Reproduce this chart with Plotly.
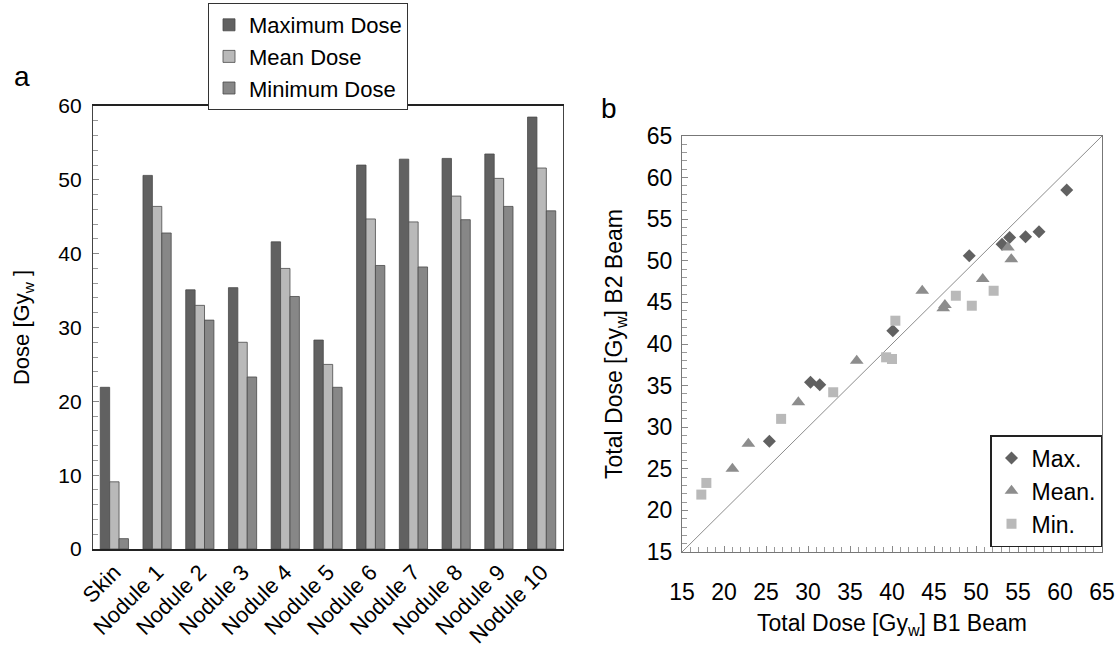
import plotly.graph_objects as go

# ---------------- data ----------------
categories = ["Skin", "Nodule 1", "Nodule 2", "Nodule 3", "Nodule 4", "Nodule 5",
              "Nodule 6", "Nodule 7", "Nodule 8", "Nodule 9", "Nodule 10"]
max_dose = [21.9, 50.6, 35.1, 35.4, 41.6, 28.3, 52.0, 52.8, 52.9, 53.5, 58.5]
mean_dose = [9.1, 46.4, 33.0, 28.0, 38.0, 25.0, 44.7, 44.3, 47.8, 50.2, 51.6]
min_dose = [1.4, 42.8, 31.0, 23.3, 34.2, 21.9, 38.4, 38.2, 44.6, 46.4, 45.8]

# B1 beam values for nodules 1..10 (x of panel b); B2 values are the bar values
b1_max = [49.2, 31.4, 30.3, 40.1, 25.4, 53.1, 54.0, 55.9, 57.5, 60.8]
b1_mean = [43.6, 28.85, 22.9, 35.8, 21.0, 46.3, 46.1, 50.8, 54.2, 53.8]
b1_min = [40.4, 26.8, 17.9, 33.0, 17.3, 39.3, 40.0, 49.5, 52.1, 47.6]
diag = [15, 65]

FONT = "Liberation Sans, Arial, sans-serif"
C_MAX = "#616161"
C_MEAN = "#b9b9b9"
C_MIN = "#878787"

fig = go.Figure()

# ---------------- panel a: bars ----------------
for name, vals, col in [("Maximum Dose", max_dose, C_MAX),
                        ("Mean Dose", mean_dose, C_MEAN),
                        ("Minimum Dose", min_dose, C_MIN)]:
    fig.add_trace(go.Bar(x=categories, y=vals, name=name, marker_color=col,
                         marker_line=dict(color="#4a4a4a", width=0.8),
                         xaxis="x", yaxis="y", legend="legend"))

# ---------------- panel b: scatter ----------------
fig.add_trace(go.Scatter(x=diag, y=diag, mode="lines", line=dict(color="#8c8c8c", width=1),
                         showlegend=False, xaxis="x2", yaxis="y2", hoverinfo="skip"))
fig.add_trace(go.Scatter(x=b1_max, y=max_dose[1:], mode="markers", name="Max.",
                         marker=dict(symbol="diamond", size=10, color=C_MAX),
                         xaxis="x2", yaxis="y2", legend="legend2"))
fig.add_trace(go.Scatter(x=b1_mean, y=mean_dose[1:], mode="markers", name="Mean.",
                         marker=dict(symbol="triangle-up", size=12, color="#8d8d8d"),
                         xaxis="x2", yaxis="y2", legend="legend2"))
fig.add_trace(go.Scatter(x=b1_min, y=min_dose[1:], mode="markers", name="Min.",
                         marker=dict(symbol="square", size=10, color=C_MEAN),
                         xaxis="x2", yaxis="y2", legend="legend2"))

L, R, T, B = 93, 16, 106, 94
W, H = 1118, 646
PW, PH = W - L - R, H - T - B


def px_x(p):
    return (p - L) / PW


def px_y(p):
    return (H - B - p) / PH


fig.update_layout(
    width=W, height=H,
    margin=dict(l=L, r=R, t=T, b=B, autoexpand=False),
    paper_bgcolor="white", plot_bgcolor="white",
    font=dict(family=FONT, size=22, color="black"),
    barmode="group", bargap=0.34, bargroupgap=0,
    xaxis=dict(domain=[0, px_x(563)], anchor="y", showline=True, mirror=True,
               linecolor="#222", linewidth=1.5, tickangle=-45, ticks="",
               tickfont=dict(size=22), showgrid=False),
    yaxis=dict(domain=[px_y(549), 1], anchor="x", range=[0, 60], dtick=10,
               showline=True, mirror=True, linecolor="#444", linewidth=1.2,
               ticks="inside", ticklen=6, tickcolor="#888", ticklabelstandoff=6,
               minor=dict(dtick=2, ticks="inside", ticklen=5, tickcolor="#999"),
               tickfont=dict(size=21), showgrid=False, zeroline=False,
               title=dict(text="Dose [Gy<sub>w</sub> ]", font=dict(size=22), standoff=22)),
    xaxis2=dict(domain=[px_x(682), 1], anchor="y2", range=[15, 65], dtick=5,
                showline=True, mirror=True, linecolor="#777", linewidth=1,
                ticks="inside", ticklen=6, tickcolor="#888", ticklabelstandoff=19,
                minor=dict(dtick=1, ticks="inside", ticklen=5, tickcolor="#999"),
                tickfont=dict(size=23), showgrid=False, zeroline=False,
                title=dict(text="Total Dose [Gy<sub>w</sub>] B1 Beam", font=dict(size=23), standoff=11)),
    yaxis2=dict(domain=[0, px_y(136)], anchor="x2", range=[15, 65], dtick=5,
                showline=True, mirror=True, linecolor="#777", linewidth=1,
                ticks="inside", ticklen=6, tickcolor="#888", ticklabelstandoff=4,
                minor=dict(dtick=1, ticks="inside", ticklen=5, tickcolor="#999"),
                tickfont=dict(size=23), showgrid=False, zeroline=False,
                title=dict(text="Total Dose [Gy<sub>w</sub>] B2 Beam", font=dict(size=23), standoff=17)),
    legend=dict(x=px_x(208), y=px_y(3), xanchor="left", yanchor="top",
                bordercolor="#333", borderwidth=1, bgcolor="white",
                font=dict(size=22), itemwidth=30, tracegroupgap=0),
    legend2=dict(x=px_x(990), y=px_y(435), xanchor="left", yanchor="top",
                 bordercolor="#222", borderwidth=1.5, bgcolor="white",
                 font=dict(size=23), itemwidth=30),
    annotations=[
        dict(text="a", x=px_x(22), y=px_y(77), xref="paper", yref="paper",
             xanchor="center", yanchor="middle", showarrow=False, font=dict(size=28)),
        dict(text="b", x=px_x(609), y=px_y(108), xref="paper", yref="paper",
             xanchor="center", yanchor="middle", showarrow=False, font=dict(size=28)),
    ],
)

fig.write_html("out.html", config={"displayModeBar": False},
               post_script="document.body.style.margin='0';")
